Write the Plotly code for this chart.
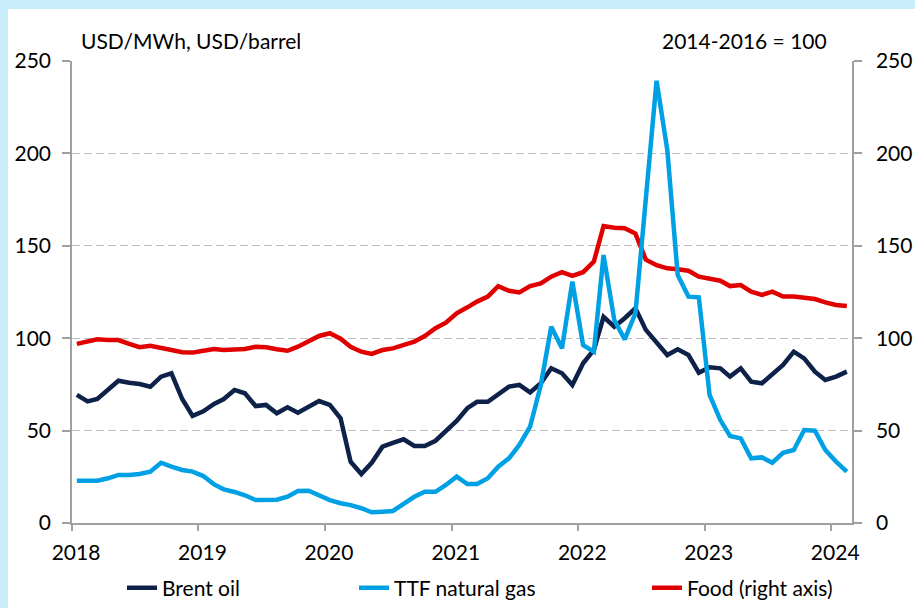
import plotly.graph_objects as go

# ---- data (monthly, Jan 2018 - Feb 2024) ----
start_year = 2018
n_months = 74
months = [f"{start_year + m // 12}-{m % 12 + 1:02d}-15" for m in range(n_months)]

brent_oil = [
    69.3, 65.8, 67.1, 72.0, 77.0, 75.9, 75.2, 73.7, 79.2, 81.0, 67.1, 58.0,
    60.4, 64.4, 67.1, 72.0, 70.2, 63.3, 63.9, 59.4, 62.6, 59.7, 62.9, 66.0,
    63.9, 56.7, 33.2, 26.5, 32.6, 41.3, 43.4, 45.3, 41.7, 41.7, 44.5, 50.0,
    55.2, 62.1, 65.6, 65.6, 69.3, 73.8, 74.7, 70.7, 75.6, 83.7, 81.0, 74.7,
    86.4, 93.6, 111.6, 106.2, 110.8, 116.2, 104.5, 98.0, 90.9, 94.0, 90.9, 81.3,
    84.3, 83.7, 79.2, 83.7, 76.5, 75.6, 80.1, 85.5, 92.7, 89.1, 81.9, 77.4,
    79.2, 81.9,
]
ttf_gas = [
    22.9, 22.9, 22.9, 24.2, 26.0, 26.0, 26.5, 27.8, 32.6, 30.5, 28.7, 27.8,
    25.4, 20.9, 18.2, 16.8, 15.0, 12.4, 12.4, 12.6, 14.2, 17.3, 17.5, 15.2,
    12.4, 10.7, 9.7, 8.0, 5.8, 6.1, 6.5, 10.3, 14.2, 16.9, 16.9, 20.6,
    25.1, 21.1, 21.1, 24.2, 30.5, 35.0, 42.2, 52.1, 74.7, 106.2, 94.5, 130.6,
    96.3, 92.7, 145.0, 109.8, 99.4, 113.5, 176.0, 239.3, 201.8, 134.2, 122.5, 122.1,
    69.3, 55.7, 47.1, 45.8, 35.0, 35.5, 32.6, 38.0, 39.5, 50.3, 49.9, 39.5,
    33.2, 27.8,
]
food_index = [
    96.9, 98.1, 99.4, 99.0, 99.0, 96.9, 95.1, 95.9, 94.5, 93.6, 92.4, 92.2,
    93.2, 94.2, 93.6, 93.6, 94.2, 95.4, 95.1, 94.0, 93.2, 95.4, 98.1, 101.2,
    102.7, 99.7, 95.4, 92.7, 91.5, 93.6, 94.5, 96.3, 98.1, 101.2, 105.4, 108.4,
    113.5, 116.7, 119.8, 122.5, 128.2, 125.7, 124.8, 128.2, 129.7, 133.3, 135.7, 133.7,
    135.7, 141.4, 160.7, 159.8, 159.5, 156.6, 142.5, 139.5, 137.8, 137.3, 136.5, 133.3,
    131.9, 131.1, 128.2, 128.8, 125.2, 123.4, 125.2, 122.5, 122.5, 121.6, 121.2, 119.4,
    118.0, 117.4,
]

year_ticks = ["2018-01-01", "2019-01-01", "2020-01-01", "2021-01-01",
              "2022-01-01", "2023-01-01", "2024-01-01"]
year_labels = ["2018", "2019", "2020", "2021", "2022", "2023", "2024"]
y_ticks = [0, 50, 100, 150, 200, 250]

series_names = ["Brent oil", "TTF natural gas", "Food (right axis)"]

# ---- style ----
FONT = "Lato"
FS = 21
NAVY = "#0E2148"
BLUE = "#00A1E4"
RED = "#E10000"
AX = "#A0A0A0"
GRID = "#BEBEBE"

fig = go.Figure()
fig.add_trace(go.Scatter(x=months, y=brent_oil, name=series_names[0], mode="lines",
                         line=dict(color=NAVY, width=4.5), legend="legend"))
fig.add_trace(go.Scatter(x=months, y=food_index, name=series_names[2], mode="lines",
                         line=dict(color=RED, width=4.5), yaxis="y2", legend="legend3"))
fig.add_trace(go.Scatter(x=months, y=ttf_gas, name=series_names[1], mode="lines",
                         line=dict(color=BLUE, width=4.5), yaxis="y2", legend="legend2"))

L, R, T, B = 72, 63, 61, 85
W, H = 915, 608
pw, ph = W - L - R, H - T - B

def px_x(px):
    return (px - L) / pw

def px_y(py):
    return (H - B - py) / ph

legend_common = dict(orientation="h", xanchor="left", yanchor="middle",
                     font=dict(family=FONT, size=FS, color="#000000"),
                     bgcolor="rgba(0,0,0,0)", itemwidth=30)

fig.update_layout(
    width=W, height=H,
    margin=dict(l=L, r=R, t=T, b=B, pad=0, autoexpand=False),
    paper_bgcolor="#C9ECFB",
    plot_bgcolor="rgba(0,0,0,0)",
    font=dict(family=FONT, size=FS, color="#000000"),
    showlegend=True,
    legend=dict(x=px_x(122), y=px_y(588), **legend_common),
    legend2=dict(x=px_x(354), y=px_y(588), **legend_common),
    legend3=dict(x=px_x(647), y=px_y(588), **legend_common),
    xaxis=dict(
        type="date", range=["2018-01-01", "2024-03-01"],
        tickvals=year_ticks, ticktext=year_labels,
        showgrid=False, zeroline=False, automargin=False,
        showline=True, linecolor=AX, linewidth=1.5,
        ticks="outside", ticklen=6, tickcolor=AX, tickwidth=1.5,
        ticklabelshift=4, ticklabelstandoff=4,
        tickfont=dict(family=FONT, size=FS, color="#000000"),
    ),
    yaxis=dict(
        range=[0, 250], tickvals=y_ticks,
        showgrid=True, gridcolor=GRID, gridwidth=1.3, griddash="8px,4px",
        zeroline=False, automargin=False,
        showline=True, linecolor=AX, linewidth=1.5,
        ticks="outside", ticklen=8, tickcolor=AX, tickwidth=1.5,
        ticklabelstandoff=7,
        tickfont=dict(family=FONT, size=FS, color="#000000"),
    ),
    yaxis2=dict(
        range=[0, 250], tickvals=y_ticks, overlaying="y", side="right",
        showgrid=False, zeroline=False, automargin=False,
        showline=True, linecolor=AX, linewidth=1.5,
        ticks="outside", ticklen=8, tickcolor=AX, tickwidth=1.5,
        ticklabelstandoff=10,
        tickfont=dict(family=FONT, size=FS, color="#000000"),
    ),
    shapes=[dict(type="rect", xref="paper", yref="paper", layer="below",
                 x0=px_x(8), x1=px_x(930), y0=px_y(620), y1=px_y(9),
                 fillcolor="#FFFFFF", line=dict(width=0))],
    annotations=[
        dict(text="USD/MWh, USD/barrel", xref="paper", yref="paper",
             x=px_x(79), y=px_y(41), xanchor="left", yanchor="middle",
             showarrow=False, font=dict(family=FONT, size=FS, color="#000000")),
        dict(text="2014-2016 = 100", xref="paper", yref="paper",
             x=px_x(829), y=px_y(41), xanchor="right", yanchor="middle",
             showarrow=False, font=dict(family=FONT, size=FS, color="#000000")),
    ],
)

fig.write_html(
    "out.html",
    config={"displayModeBar": False},
    post_script="document.body.style.margin='0';document.body.style.overflow='hidden';",
)
